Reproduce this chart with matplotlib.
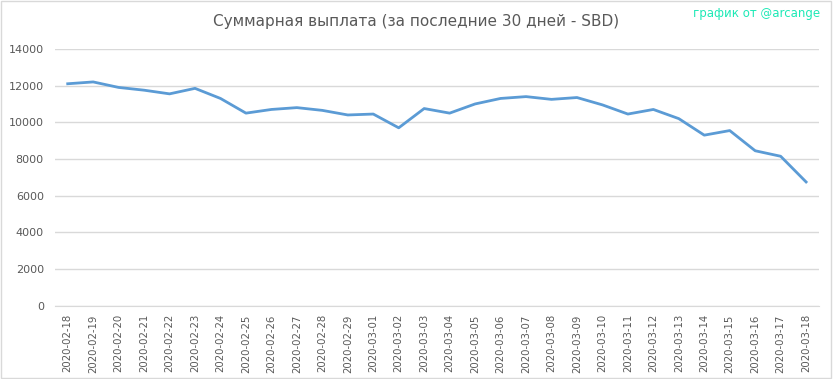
import matplotlib
matplotlib.use("Agg")
import matplotlib.pyplot as plt
import pandas as pd

dates = pd.date_range("2020-02-18", "2020-03-18").strftime("%Y-%m-%d").tolist()
payout = [12100, 12200, 11900, 11750, 11550, 11850, 11300, 10500, 10700, 10800,
          10650, 10400, 10450, 9700, 10750, 10500, 11000, 11300, 11400, 11250,
          11350, 10950, 10450, 10700, 10200, 9300, 9550, 8450, 8150, 6750]
yticks = list(range(0, 14001, 2000))

fig = plt.figure(figsize=(8.33, 3.79), dpi=100)
ax = fig.add_axes([0.066, 0.193, 0.917, 0.678])
ax.plot(range(len(dates)), payout, color="#5b9bd5", lw=2)

ax.set_xlim(-0.5, len(dates) - 0.5)
ax.set_ylim(0, 14000)
ax.set_yticks(yticks)
ax.set_xticks(range(len(dates)), labels=dates, rotation=90)
ax.tick_params(axis="y", length=0, labelsize=8, colors="#595959", pad=8)
ax.tick_params(axis="x", length=0, labelsize=7.3, colors="#595959", pad=6)
ax.grid(axis="y", color="#d9d9d9", lw=1)
ax.set_axisbelow(True)
for s in ["top", "right", "left"]:
    ax.spines[s].set_visible(False)
ax.spines["bottom"].set_color("#d9d9d9")

fig.text(0.5, 0.942, "Суммарная выплата (за последние 30 дней - SBD)",
         ha="center", va="center", fontsize=11, color="#595959")
fig.text(0.985, 0.955, "график от @arcange", ha="right", fontsize=8.5, color="#1de9b6")
fig.patches.append(plt.Rectangle((0.001, 0.002), 0.997, 0.995, transform=fig.transFigure,
                                 fill=False, ec="#d9d9d9", lw=1))
fig.savefig("out.png", dpi=100, facecolor="white")
